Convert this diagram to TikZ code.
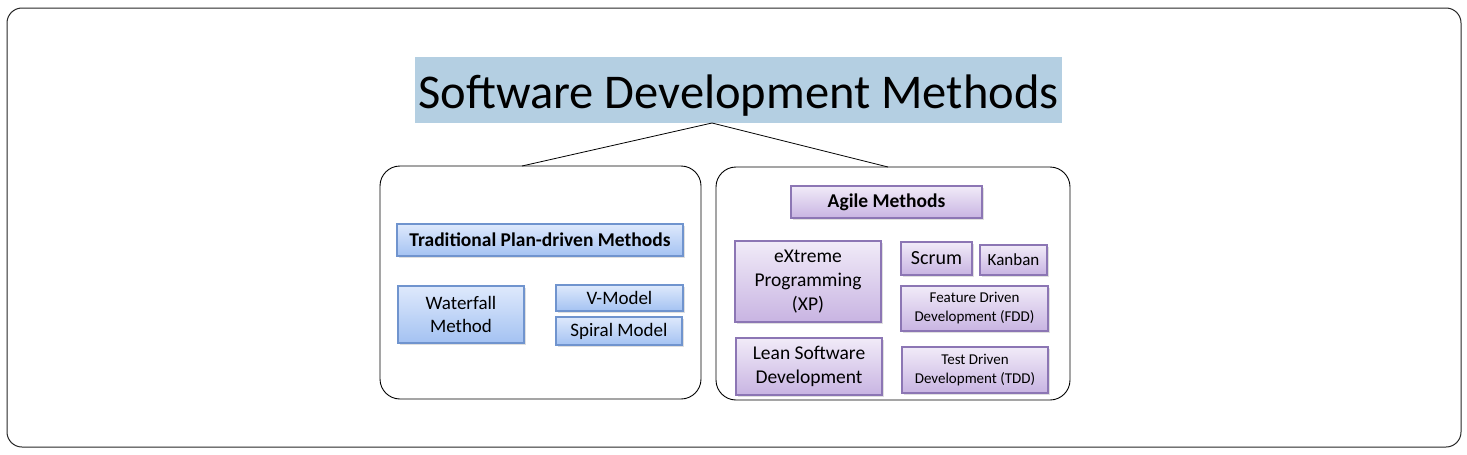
\documentclass[tikz,border=0pt]{standalone}
\usepackage{fontspec}
\setmainfont{Carlito}
\usepackage{tikz}
\usetikzlibrary{calc}
\usetikzlibrary{shadows}

\definecolor{titlefill}{RGB}{180,207,226}
\definecolor{bluetop}{RGB}{222,233,252}
\definecolor{bluebot}{RGB}{164,194,242}
\definecolor{blueedge}{RGB}{112,148,206}
\definecolor{purptop}{RGB}{241,235,248}
\definecolor{purpbot}{RGB}{200,180,226}
\definecolor{purpedge}{RGB}{140,118,180}

\tikzset{
    panel/.style={draw=black, line width=0.9pt, rounded corners=20pt, inner sep=0pt},
    blubox/.style={draw=blueedge, line width=1.1pt, top color=bluetop, bottom color=bluebot,
        drop shadow={shadow xshift=1.5pt, shadow yshift=-1.5pt, opacity=0.25},
        inner sep=0pt, align=center, font=\fontsize{19}{23}\selectfont},
    purbox/.style={draw=purpedge, line width=1.1pt, top color=purptop, bottom color=purpbot,
        drop shadow={shadow xshift=1.5pt, shadow yshift=-1.5pt, opacity=0.25},
        inner sep=0pt, align=center, font=\fontsize{19.5}{24}\selectfont},
    smallfont/.style={font=\fontsize{15}{19}\selectfont}
}

\begin{document}
\begin{tikzpicture}[x=1pt, y=-1pt]
        \useasboundingbox (0,0) rectangle (1467,455);
        % frame
        \draw[line width=1pt, draw=black!85, rounded corners=15pt] (7,8) rectangle (1461,447);

        % title
        \node[fill=titlefill, minimum width=647pt, text height=51pt, text depth=15pt, inner sep=0pt,
            font=\fontsize{48.5}{56}\selectfont, anchor=north] (title) at (738.5,57) {Software Development Methods};

        % panels
        \node[panel, minimum width=321pt, minimum height=233pt] (trad) at (540.5,282.5) {};
        \node[panel, minimum width=354pt, minimum height=233pt] (agile) at (893,283.5) {};

        \coordinate (apex) at (712,123);
        \coordinate (tradtop) at (522,166);
        \coordinate (agiletop) at (888,167);
        \draw[line width=0.8pt] (tradtop) -- (apex) -- (agiletop);

        % traditional
        \node[blubox, minimum width=286pt, minimum height=32pt, font=\bfseries\fontsize{19.5}{23}\selectfont]
            (tradhead) at (540,240) {Traditional Plan-driven Methods};
        \node[blubox, minimum width=126pt, minimum height=57pt] (waterfall) at (461,314.5) {Waterfall\\Method};
        \node[blubox, minimum width=127pt, minimum height=26pt] (vmodel) at (619.5,298) {V-Model};
        \node[blubox, minimum width=126pt, minimum height=28pt] (spiral) at (619,331) {Spiral Model};

        % agile
        \node[purbox, minimum width=191pt, minimum height=32pt, font=\bfseries\fontsize{19.5}{23}\selectfont]
            (agilehead) at (886.5,202) {Agile Methods};
        \node[purbox, minimum width=146pt, minimum height=81pt] (xp) at (808,281.5) {eXtreme\\Programming\\(XP)};
        \node[purbox, minimum width=71pt, minimum height=33pt, font=\fontsize{20}{24}\selectfont] (scrum) at (936.5,258.5) {Scrum};
        \node[purbox, minimum width=67pt, minimum height=30pt, font=\fontsize{17}{20}\selectfont] (kanban) at (1013.5,260) {Kanban};
        \node[purbox, smallfont, minimum width=147pt, minimum height=45pt] (fdd) at (974.5,308.5) {Feature Driven\\Development (FDD)};
        \node[purbox, minimum width=146pt, minimum height=57pt] (lean) at (809,366.5) {Lean Software\\Development};
        \node[purbox, smallfont, minimum width=146pt, minimum height=46pt] (tdd) at (975,370) {Test Driven\\Development (TDD)};
    \end{tikzpicture}
\end{document}
